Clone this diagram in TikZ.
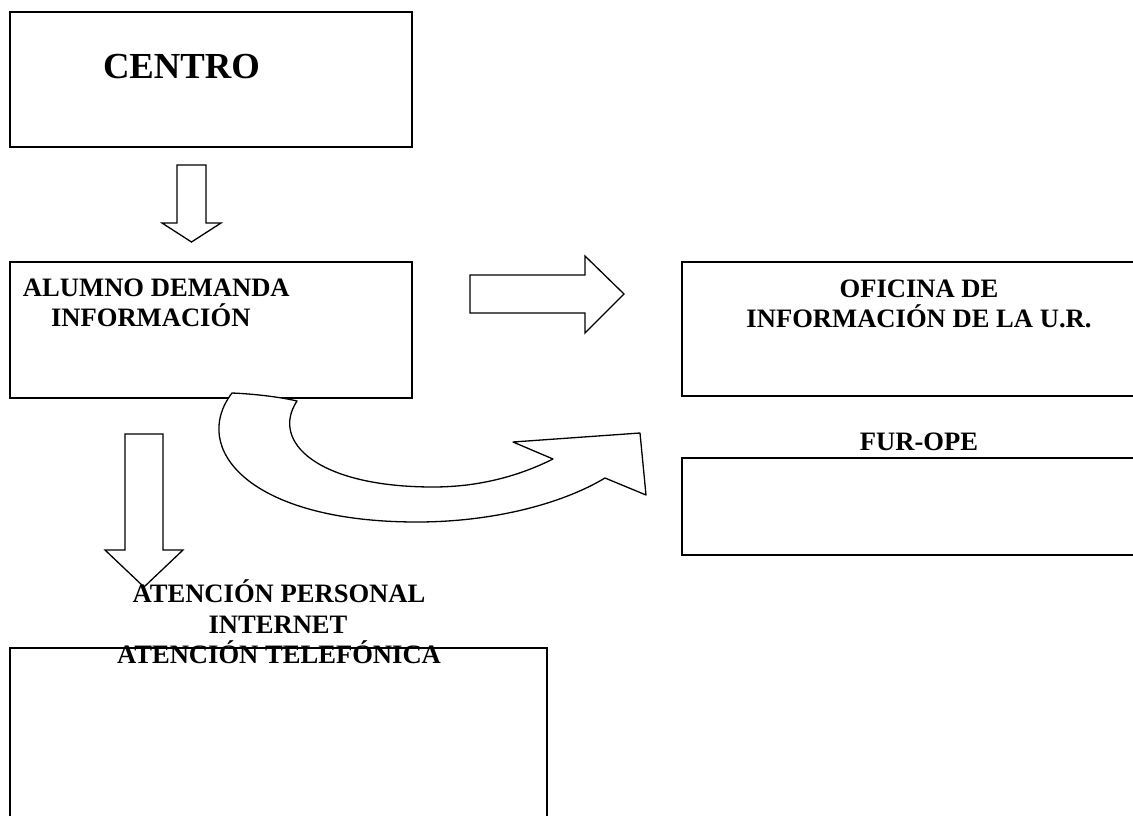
\documentclass[tikz,border=0pt]{standalone}
\usepackage{fontspec}
\setmainfont{Liberation Serif}
\begin{document}
\begin{tikzpicture}[x=1pt,y=-1pt,
  box/.style={draw,line width=1.4pt,anchor=north west,inner sep=0pt,outer sep=0pt},
  blockarrow/.style={draw,fill=white,line width=1.3pt,line join=miter},
  label/.style={font=\bfseries\fontsize{26.6}{30}\selectfont,inner sep=0pt,outer sep=0pt},
  title/.style={font=\bfseries\fontsize{36.7}{42}\selectfont,inner sep=0pt,outer sep=0pt},
]
\useasboundingbox (0,0) rectangle (1133,816);

% boxes
\node[box,minimum width=402pt,minimum height=135pt] (centro) at (10,12) {};
\node[box,minimum width=402pt,minimum height=136pt] (alumno) at (10,262) {};
\node[box,minimum width=470pt,minimum height=134pt] (oficina) at (682,262) {};
\node[box,minimum width=470pt,minimum height=97pt] (furope) at (682,458) {};
\node[box,minimum width=537pt,minimum height=190pt] (atencion) at (10,648) {};

% block arrows
\draw[blockarrow] (177,165) -- (206,165) -- (206,223) -- (221,223)
  -- (191.5,242) -- (162,223) -- (177,223) -- cycle;
\draw[blockarrow] (470,275) -- (585,275) -- (585,256) -- (624,294)
  -- (585,333) -- (585,313) -- (470,313) -- cycle;
\draw[blockarrow] (125,434) -- (163,434) -- (163,550) -- (183,550)
  -- (144,587) -- (105,550) -- (125,550) -- cycle;

% curved arrow
\draw[blockarrow,line join=round]
  (232,393) .. controls (255,394) and (280,397) .. (297,401)
  .. controls (270,442) and (318,487) .. (433,487)
  .. controls (485,487) and (525,473) .. (553,459)
  -- (513,442) -- (640,433) -- (646,495) -- (605,478)
  .. controls (560,505) and (490,522) .. (417,522)
  .. controls (248,522) and (190,448) .. (232,393) -- cycle;

% texts
\node[title,anchor=base west] (tcentro) at (103,79) {CENTRO};
\node[label,anchor=base west] (talumno1) at (23,296) {ALUMNO DEMANDA};
\node[label,anchor=base west] (talumno2) at (51,326) {INFORMACIÓN};
\node[label,anchor=base] (tofi1) at (919,297) {OFICINA DE};
\node[label,anchor=base] (tofi2) at (919,327) {INFORMACIÓN DE LA U.R.};
\node[label,anchor=base] (tfur) at (919,450) {FUR-OPE};
\node[label,anchor=base] (tat1) at (279,602) {ATENCIÓN PERSONAL};
\node[label,anchor=base] (tat2) at (278,633) {INTERNET};
\node[label,anchor=base] (tat3) at (279,663) {ATENCIÓN TELEFÓNICA};
\end{tikzpicture}
\end{document}
